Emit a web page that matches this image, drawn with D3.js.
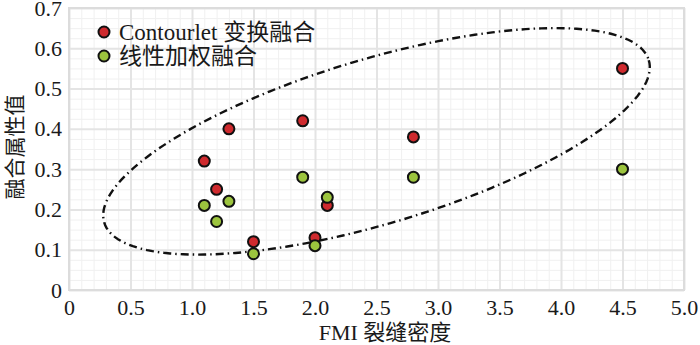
<html>
<head>
  <script src="https://d3js.org/d3.v7.min.js"></script>
  <style>
    body { margin: 0; background: #fff; }
    text { font-family: "Liberation Serif", "Times New Roman", Tinos, "DejaVu Serif", "Noto Sans CJK SC", serif; fill: #1a1a1a; }
    .grid line { stroke: #e4e4e4; }
    .grid.minor line { stroke: #f0f0f0; }
    .grid .domain { stroke: none; }
  </style>
</head>
<body>
<svg id="chart" width="700" height="345"></svg>

<script>
  // data
  const fmi = [1.1, 1.2, 1.3, 1.5, 1.9, 2.0, 2.1, 2.8, 4.5];
  const contourlet = [0.32, 0.25, 0.40, 0.12, 0.42, 0.13, 0.21, 0.38, 0.55];
  const linear = [0.21, 0.17, 0.22, 0.09, 0.28, 0.11, 0.23, 0.28, 0.30];
  const seriesNames = ["Contourlet 变换融合", "线性加权融合"];
  const seriesColors = ["#cf2a2e", "#9cc43e"];
  const xTicks = [0, 0.5, 1, 1.5, 2, 2.5, 3, 3.5, 4, 4.5, 5];
  const yTicks = [0, 0.1, 0.2, 0.3, 0.4, 0.5, 0.6, 0.7];
  // dash-dot ellipse round the points (centre in data units, radii in x units)
  const ellipse = {cx: 2.50, cy: 0.369, rx: 2.31, ry: 0.67, angle: -16.6};

  const svg = d3.select("svg#chart");
  const margin = {top: 8, right: 16, bottom: 55, left: 69};
  const chartWidth = svg.attr("width") - margin.left - margin.right;
  const chartHeight = svg.attr("height") - margin.top - margin.bottom;

  const xScale = d3.scaleLinear().domain([0, 5]).range([0, chartWidth]);
  const yScale = d3.scaleLinear().domain([0, 0.7]).range([chartHeight, 0]);

  const chart = svg.append("g")
    .attr("transform", "translate(" + margin.left + "," + margin.top + ")");

  // minor grid
  chart.append("g").attr("class", "grid minor")
    .attr("transform", "translate(0," + chartHeight + ")")
    .call(d3.axisBottom(xScale).tickValues(d3.range(0, 51).map(i => i / 10))
      .tickSize(-chartHeight).tickFormat(""));
  chart.append("g").attr("class", "grid minor")
    .call(d3.axisLeft(yScale).tickValues(d3.range(0, 29).map(i => i / 40))
      .tickSize(-chartWidth).tickFormat(""));

  // major grid
  chart.append("g").attr("class", "grid major")
    .attr("transform", "translate(0," + chartHeight + ")")
    .call(d3.axisBottom(xScale).tickValues(xTicks).tickSize(-chartHeight).tickFormat(""))
    .selectAll("line").attr("stroke-width", 2);
  chart.append("g").attr("class", "grid major")
    .call(d3.axisLeft(yScale).tickValues(yTicks).tickSize(-chartWidth).tickFormat(""))
    .selectAll("line").attr("stroke-width", 2);

  chart.append("rect")
    .attr("width", chartWidth).attr("height", chartHeight)
    .attr("fill", "none").attr("stroke", "#dcdcdc").attr("stroke-width", 2);

  // tick labels
  const xAxis = chart.append("g")
    .attr("transform", "translate(0," + chartHeight + ")")
    .call(d3.axisBottom(xScale).tickValues(xTicks).tickSize(0).tickPadding(9)
      .tickFormat(d => d === 0 ? "0" : d3.format(".1f")(d)));
  xAxis.select(".domain").remove();
  xAxis.attr("font-family", null);
  xAxis.selectAll("text").attr("font-size", 22).attr("fill", "#1a1a1a");

  const yAxis = chart.append("g")
    .call(d3.axisLeft(yScale).tickValues(yTicks).tickSize(0).tickPadding(7)
      .tickFormat(d => d === 0 ? "0" : d3.format(".1f")(d)));
  yAxis.select(".domain").remove();
  yAxis.attr("font-family", null);
  yAxis.selectAll("text").attr("font-size", 22).attr("fill", "#1a1a1a");

  // ellipse
  const ex = xScale(ellipse.cx), ey = yScale(ellipse.cy);
  const unit = xScale(1) - xScale(0);
  const rad = ellipse.angle * Math.PI / 180;
  const ellipsePts = d3.range(0, 361, 2).map(t => {
    const a = t * Math.PI / 180;
    const px = ellipse.rx * unit * Math.cos(a);
    const py = ellipse.ry * unit * Math.sin(a);
    return [ex + px * Math.cos(rad) - py * Math.sin(rad),
            ey + px * Math.sin(rad) + py * Math.cos(rad)];
  });
  chart.append("path")
    .attr("d", d3.line()(ellipsePts))
    .attr("fill", "none")
    .attr("stroke", "#111")
    .attr("stroke-width", 2.4)
    .attr("stroke-dasharray", "8,4,1.5,4");

  // points
  const series = [contourlet, linear];
  series.forEach((vals, si) => {
    chart.selectAll("circle.s" + si)
      .data(vals.map((v, i) => ({x: fmi[i], y: v})))
      .join("circle")
      .attr("class", "s" + si)
      .attr("cx", d => xScale(d.x))
      .attr("cy", d => yScale(d.y))
      .attr("r", 5.5)
      .attr("fill", seriesColors[si])
      .attr("stroke", "#111")
      .attr("stroke-width", 2);
  });

  // legend
  const legend = svg.append("g").attr("transform", "translate(104,32)");
  seriesNames.forEach((name, i) => {
    const row = legend.append("g").attr("transform", "translate(0," + (i * 24) + ")");
    row.append("circle").attr("r", 5.5)
      .attr("fill", seriesColors[i]).attr("stroke", "#111").attr("stroke-width", 2);
    row.append("text").attr("x", 15).attr("y", 8)
      .attr("font-size", 23).text(name);
  });

  // axis titles
  svg.append("text")
    .attr("x", 385).attr("y", 340)
    .attr("text-anchor", "middle")
    .attr("font-size", 22)
    .text("FMI 裂缝密度");

  svg.append("text")
    .attr("transform", "translate(22,147) rotate(-90)")
    .attr("text-anchor", "middle")
    .attr("font-size", 21)
    .text("融合属性值");
</script>
</body>
</html>
